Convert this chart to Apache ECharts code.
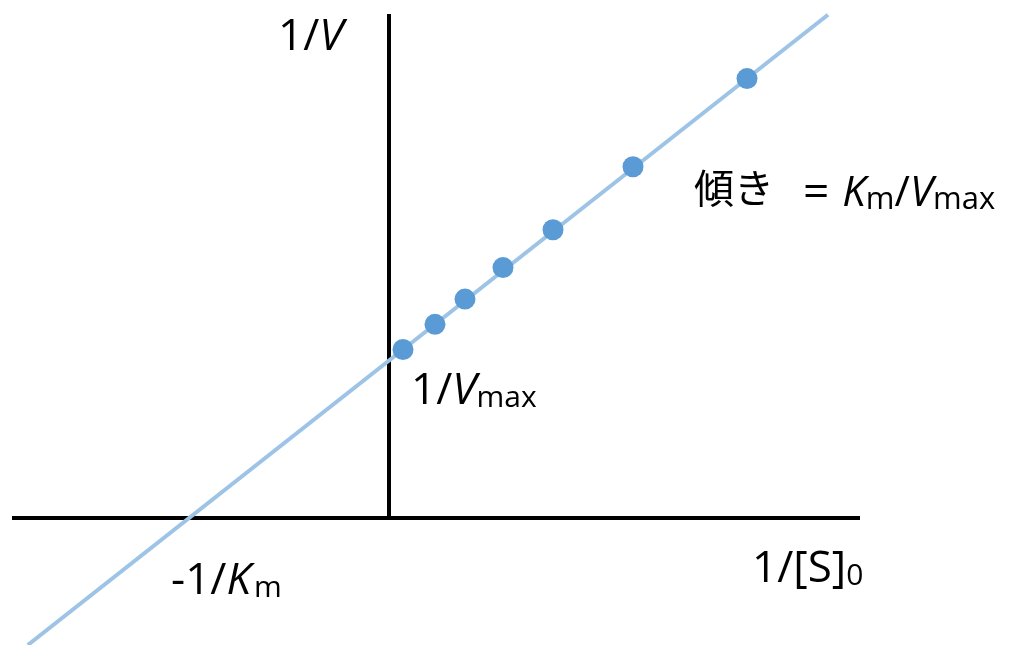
<!DOCTYPE html>
<html>
<head>
<meta charset="utf-8">
<script src="https://cdn.jsdelivr.net/npm/echarts@6/dist/echarts.min.js"></script>
<style>
  html, body { margin: 0; padding: 0; background: #ffffff; }
  #chart { width: 1009px; height: 645px; }
</style>
</head>
<body>
<div id="chart"></div>
<script>
// Lineweaver–Burk plot: 1/V against 1/[S]0, in units of 1/Km (x) and 1/Vmax (y)
const invS = [0.07, 0.23, 0.38, 0.57, 0.82, 1.22, 1.79];
const invV = [1.07, 1.23, 1.39, 1.59, 1.83, 2.23, 2.79];

// ends of the fitted straight line (intercepts at -1/Km and 1/Vmax)
const fitX = [-1.806, 2.195];
const fitY = [-0.806, 3.195];

// visible extent of the two axes
const xRange = [-1.885, 2.355];
const yRange = [-0.806, 3.2];

const FONT = "'Open Sans', 'Noto Sans CJK JP', sans-serif";
const INK = '#111111';
const MAIN = 44, SUB = 30;

function tok(size, lh, extra) {
  return Object.assign({ fontSize: size, lineHeight: lh, fontFamily: FONT, color: INK }, extra || {});
}

// rich-text styles; subscripts sit at the bottom of a shorter line box
const rich = {
  r: tok(MAIN, 44),
  i: tok(MAIN, 44, { fontStyle: 'italic' }),
  s8: tok(SUB, 17, { verticalAlign: 'bottom' }),
  s11: tok(SUB, 11, { verticalAlign: 'bottom' }),
  sk: tok(SUB, 11, { verticalAlign: 'bottom', padding: [0, 0, 0, 3] }),
  kj: tok(40, 20, { verticalAlign: 'top' }),
  gap: tok(36, 44, { width: 29 }),
  gap2: tok(36, 44, { width: 13 }),
  eq: tok(46, 44),
  ti: tok(42, 44, { fontStyle: 'italic' }),
  tr: tok(42, 44),
  s3: tok(31, 32, { verticalAlign: 'bottom' })
};

function label(x, y, text) {
  return {
    type: 'text', x: x, y: y, z: 10,
    style: { text: text, rich: rich, align: 'left', verticalAlign: 'middle' }
  };
}

const chart = echarts.init(document.getElementById('chart'), null, { renderer: 'canvas' });

chart.setOption({
  animation: false,
  backgroundColor: '#ffffff',
  grid: { left: 12, right: 149, top: 14, bottom: 0 },
  xAxis: { type: 'value', min: xRange[0], max: xRange[1], show: false },
  yAxis: { type: 'value', min: yRange[0], max: yRange[1], show: false },
  series: [
    {
      name: 'x-axis', type: 'line', silent: true, symbol: 'none', z: 1,
      data: [[xRange[0], 0], [xRange[1], 0]],
      lineStyle: { color: '#000000', width: 4, cap: 'butt' }
    },
    {
      name: 'y-axis', type: 'line', silent: true, symbol: 'none', z: 1,
      data: [[0, 0], [0, yRange[1]]],
      lineStyle: { color: '#000000', width: 4, cap: 'butt' }
    },
    {
      name: 'fit', type: 'line', silent: true, symbol: 'none', z: 2,
      data: fitX.map((x, k) => [x, fitY[k]]),
      lineStyle: { color: '#9dc3e6', width: 4 }
    },
    {
      name: 'data', type: 'scatter', z: 3,
      symbol: 'circle', symbolSize: 21,
      data: invS.map((x, k) => [x, invV[k]]),
      itemStyle: { color: '#5b9bd5', opacity: 1 }
    }
  ],
  graphic: [
    label(278, 37, '{r|1/}{i|V}'),
    label(411, 391, '{r|1/}{i|V}{s8|max}'),
    label(694, 194, '{kj|傾き}{gap| }{eq|=}{gap2| }{ti|K}{s3|m}{tr|/}{ti|V}{s3|max}'),
    label(171, 581, '{r|-1/}{i|K}{sk|m}'),
    label(752, 569, '{r|1/[S]}{s8|0}')
  ]
});
</script>
</body>
</html>
